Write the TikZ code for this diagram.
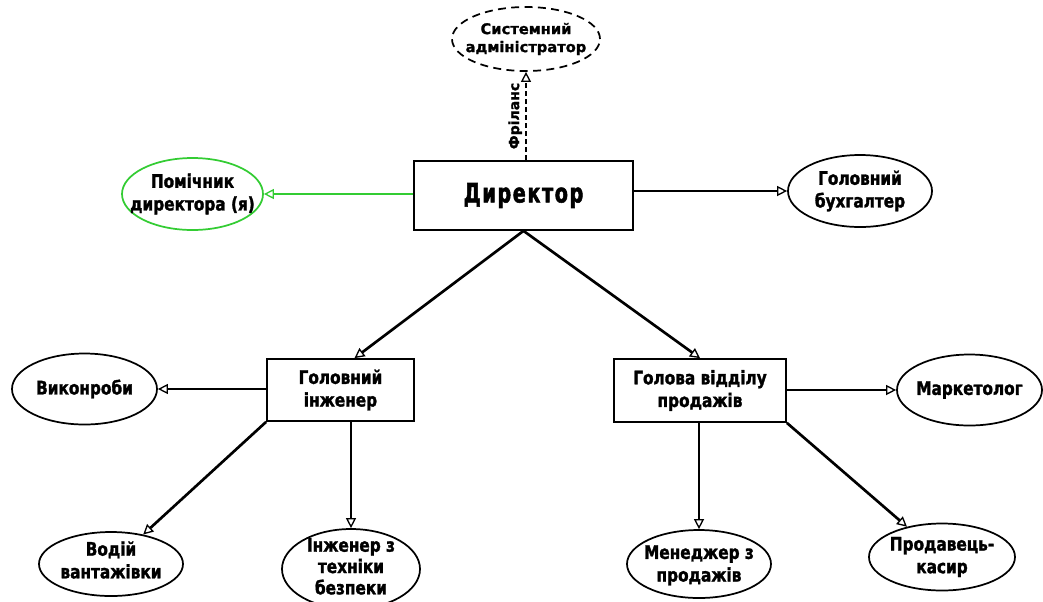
\documentclass[tikz,border=0pt]{standalone}
\usepackage{fontspec}
\setmainfont{DejaVu Sans}[FakeStretch=0.82, BoldFeatures={FakeBold=1.6}]
\newfontfamily\sysfont{DejaVu Sans}[FakeStretch=1.0, BoldFeatures={FakeBold=1.2}]
\newfontfamily\dirfont{DejaVu Sans}[FakeStretch=0.72, LetterSpace=6, BoldFeatures={FakeBold=2}]
\usetikzlibrary{arrows.meta,shapes.geometric,calc}
\definecolor{grn}{HTML}{33CC33}
\begin{document}
\begin{tikzpicture}[x=0.75pt,y=-0.75pt,
  txt/.style={font=\bfseries\fontsize{14}{17}\selectfont, align=center, inner sep=0pt},
  box/.style={draw, line width=1.3pt, rectangle, txt},
  ell/.style={draw, line width=1.3pt, ellipse, inner sep=0pt},
  conn/.style={line width=2pt, -{Triangle[open,length=7.5pt,width=7.5pt,line width=1pt]}},
]
\path[use as bounding box] (0,0) rectangle (1043,601);
% nodes
\node[box, minimum width=219*0.75pt, minimum height=69*0.75pt,
  font=\dirfont\bfseries\fontsize{20}{22}\selectfont] (dir) at (523.5,195.5) {Директор};
\node[ell, dashed, dash pattern=on 6pt off 4pt, minimum width=148*0.75pt, minimum height=64*0.75pt,
  label={[txt, font=\sysfont\bfseries\fontsize{11}{13.5}\selectfont]center:Системний\\адміністратор}] (sys) at (526,39) {};
\node[ell, draw=grn, minimum width=141*0.75pt, minimum height=72*0.75pt,
  label={[txt]center:Помічник\\директора (я)}] (pom) at (192.5,194) {};
\node[ell, minimum width=144*0.75pt, minimum height=72*0.75pt,
  label={[txt]center:Головний\\бухгалтер}] (acc) at (860,191) {};
\node[box, minimum width=147*0.75pt, minimum height=62*0.75pt] (eng) at (340.5,390) {Головний\\інженер};
\node[box, minimum width=172*0.75pt, minimum height=63*0.75pt] (sal) at (700,390.5) {Голова відділу\\продажів};
\node[ell, minimum width=145*0.75pt, minimum height=71*0.75pt,
  label={[txt]center:Виконроби}] (vyk) at (84.5,389) {};
\node[ell, minimum width=144*0.75pt, minimum height=64*0.75pt,
  label={[txt, yshift=3pt]center:Водій\\вантажівки}] (vod) at (111,564) {};
\node[ell, minimum width=138*0.75pt, minimum height=80*0.75pt,
  label={[txt, font=\bfseries\fontsize{14}{16}\selectfont, yshift=2pt]center:Інженер з\\техніки\\безпеки}] (ib) at (351,569) {};
\node[ell, minimum width=145*0.75pt, minimum height=71*0.75pt,
  label={[txt]center:Маркетолог}] (mark) at (969.5,390) {};
\node[ell, minimum width=144*0.75pt, minimum height=68*0.75pt,
  label={[txt, yshift=-1pt]center:Менеджер з\\продажів}] (men) at (699,564) {};
\node[ell, minimum width=146*0.75pt, minimum height=67*0.75pt,
  label={[txt]center:Продавець-\\касир}] (prod) at (942,557) {};
% connectors
\draw[conn, dashed, dash pattern=on 4pt off 2pt] (dir.north -| sys) -- (sys.south)
  node[midway, left=2pt, rotate=90, anchor=south, txt, font=\sysfont\bfseries\fontsize{10.5}{12}\selectfont] {Фріланс};
\draw[conn, draw=grn, -{Triangle[open,length=7.5pt,width=7.5pt,line width=1pt,color=grn]}] (dir.west |- pom) -- (pom);
\draw[conn] (dir.east |- acc) -- (acc);
\draw[conn] (dir.south) -- ($(eng.north)+(14,0)$);
\draw[conn] (dir.south) -- (sal.north);
\draw[conn] (eng.west |- vyk) -- (vyk);
\draw[conn] (eng.south west) -- (vod);
\draw[conn] (eng.south -| ib) -- (ib);
\draw[conn] (sal.east |- mark) -- (mark);
\draw[conn] (sal.south -| men) -- (men);
\draw[conn] (sal.south east) -- (prod);
\end{tikzpicture}
\end{document}
